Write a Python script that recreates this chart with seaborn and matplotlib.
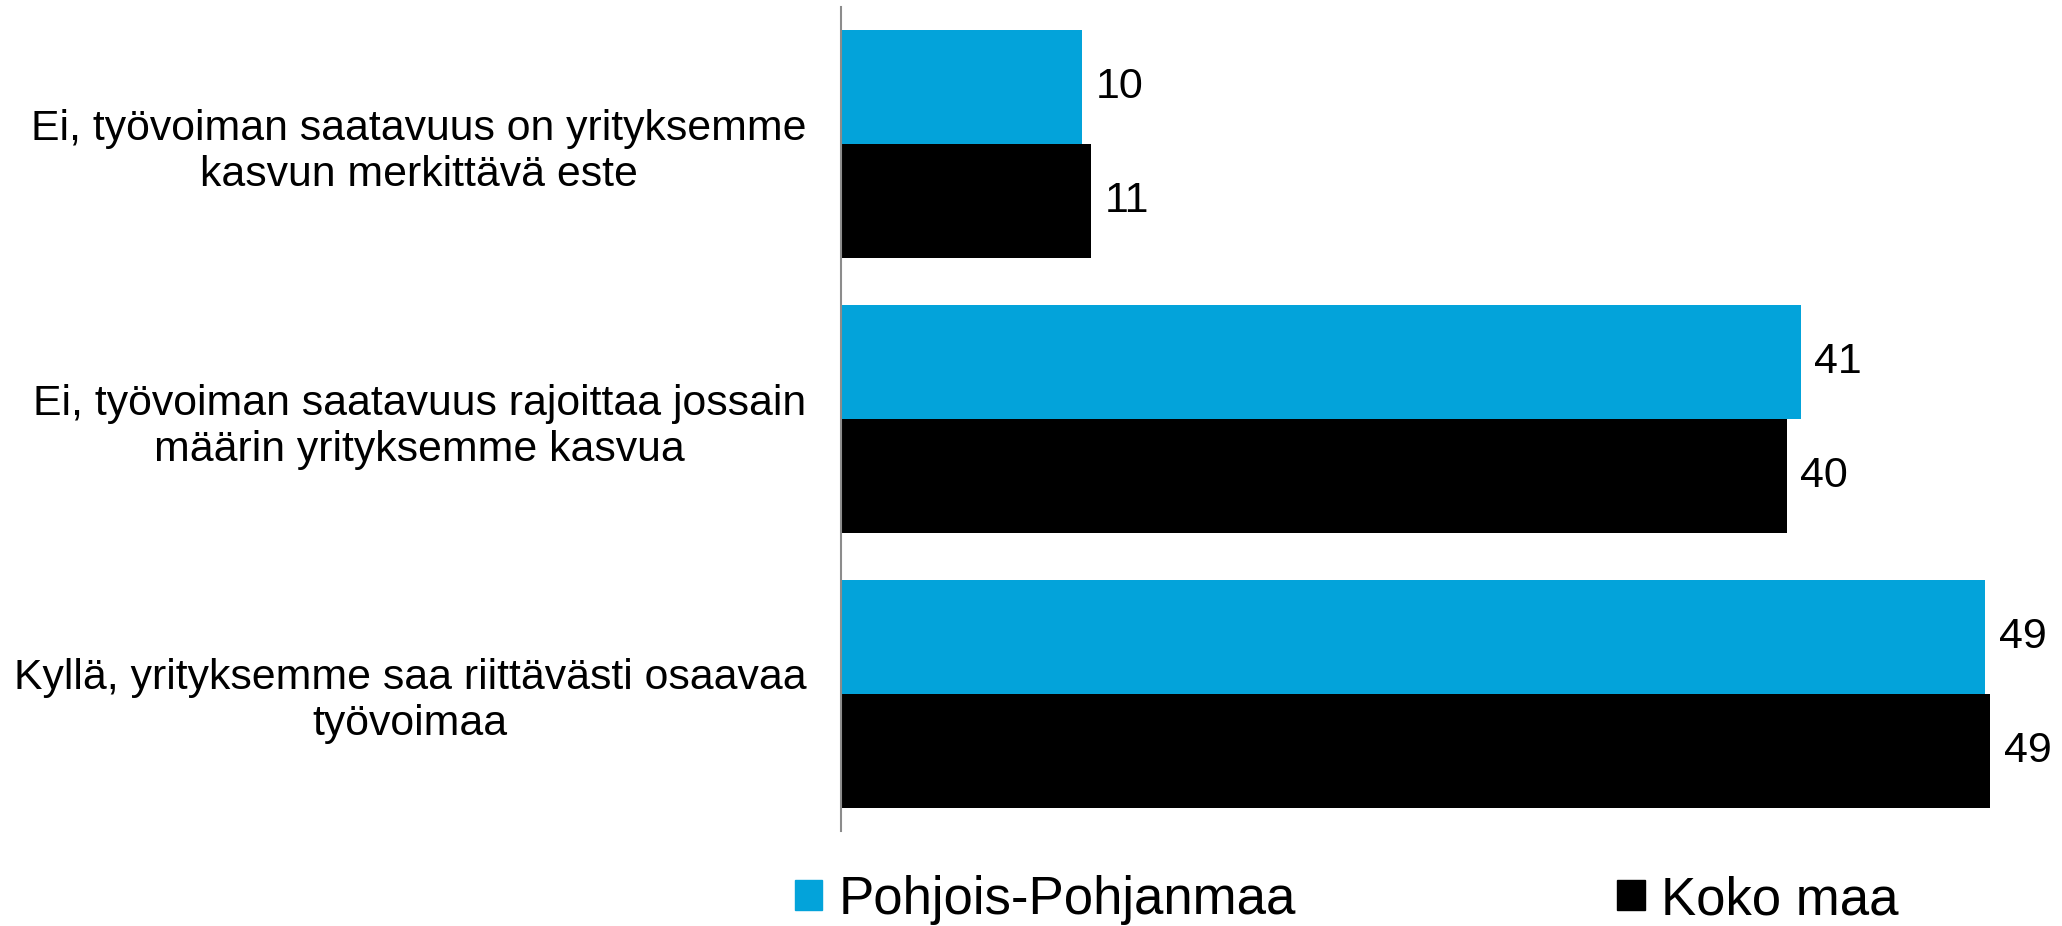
import pandas as pd
import matplotlib
matplotlib.use("Agg")
import matplotlib.pyplot as plt
import seaborn as sns

# Kategoriat ja arvot (luettu kuvasta)
categories = [
    "Ei, työvoiman saatavuus on yrityksemme\nkasvun merkittävä este",
    "Ei, työvoiman saatavuus rajoittaa jossain\nmäärin yrityksemme kasvua",
    "Kyllä, yrityksemme saa riittävästi osaavaa\ntyövoimaa",
]
series = ["Pohjois-Pohjanmaa", "Koko maa"]
pohjois_pohjanmaa = [10.3, 41.1, 49.0]
koko_maa = [10.7, 40.5, 49.2]
colors = ["#03A3DA", "#000000"]

df = pd.DataFrame({
    "kategoria": categories * 2,
    "alue": [series[0]] * 3 + [series[1]] * 3,
    "osuus": pohjois_pohjanmaa + koko_maa,
})

sns.set_style("white")
plt.rcParams["font.family"] = ["Liberation Sans", "DejaVu Sans"]
plt.rcParams["text.color"] = "black"
plt.rcParams["ytick.color"] = "black"

fig = plt.figure(figsize=(20.62, 9.26), dpi=100)
ax = fig.add_axes([0.4079, 0.1026, 0.5921, 0.8898])

sns.barplot(data=df, y="kategoria", x="osuus", hue="alue", order=categories,
            hue_order=series, palette=colors, width=0.83, saturation=1,
            orient="h", ax=ax, legend=False, linewidth=0)

for cont in ax.containers:
    ax.bar_label(cont, labels=[f"{b.get_width():.0f}" for b in cont],
                 padding=10, fontsize=31, color="black")

ax.set_xlim(0, 52.3)
ax.set_ylim(2.5, -0.5)
ax.set_xlabel("")
ax.set_ylabel("")
ax.set_xticks([])
ax.tick_params(axis="y", length=0, pad=25, labelsize=30.8, labelcolor="black")
for lbl in ax.get_yticklabels():
    lbl.set_multialignment("center")
for s in ["top", "right", "bottom"]:
    ax.spines[s].set_visible(False)
ax.spines["left"].set_color("#8C8C8C")
ax.spines["left"].set_linewidth(1.5)

handles = [plt.Rectangle((0, 0), 1, 1, color=c) for c in colors]
fig.legend(handles, series, loc="center left", bbox_to_anchor=(0.3855, 0.028),
           ncol=2, frameon=False, fontsize=38, handlelength=0.52,
           handleheight=0.5, handletextpad=0.3, columnspacing=6.1,
           borderpad=0, borderaxespad=0, labelcolor="black")

fig.savefig("out.png", dpi=100)
